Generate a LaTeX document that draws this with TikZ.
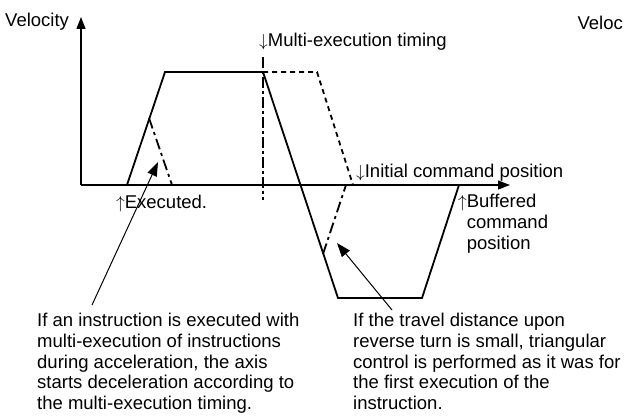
\documentclass[tikz,border=0pt]{standalone}
\usepackage{fontspec}
\setmainfont{Liberation Sans}
\usetikzlibrary{arrows.meta}
\newcommand{\arrdn}{\ensuremath{\downarrow}}
\newcommand{\arrup}{\ensuremath{\uparrow}}
\tikzset{
  lbl/.style={inner sep=0pt,font=\fontsize{18.5}{20.7}\selectfont},
  note/.style={lbl,align=left,anchor=north west},
  prof/.style={line width=1.8pt,line join=miter},
  axis/.style={line width=1.3pt,-{Triangle[length=12pt,width=9pt]}},
  plan/.style={line width=1.8pt,dash pattern=on 5pt off 4pt},
  alt/.style={line width=1.8pt,dash pattern=on 11pt off 4pt on 3pt off 4pt},
  tline/.style={line width=1.3pt,dash pattern=on 11pt off 3pt on 3pt off 3pt},
  lead/.style={line width=1pt,-{Triangle[length=14pt,width=10pt]}},
}

\begin{document}
\begin{tikzpicture}[x=1pt,y=-1pt]
\useasboundingbox (0,0) rectangle (624,417);
% axes
\coordinate (org) at (81,185);
\coordinate (vtop) at (81,17);
\coordinate (htip) at (510,185);
\draw[axis] (org)--(vtop);
\draw[axis] (org)--(htip);
% profile points
\coordinate (a0) at (127,185);
\coordinate (a1) at (165,72);
\coordinate (d0) at (263,72);
\coordinate (d1) at (338,298);
\coordinate (d2) at (422,298);
\coordinate (d3) at (459,185);
\draw[prof] (a0)--(a1)--(d0)--(d1)--(d2)--(d3);
\draw[tline] (263,57) coordinate (t0)--(263,200) coordinate (t1);
\draw[alt] (149,118) coordinate (e0)--(172,185) coordinate (e1);
\draw[plan] (d0)--(317,72) coordinate (p1)--(353,185) coordinate (p2);
\draw[alt] (323,254) coordinate (r0)--(346,185) coordinate (r1);
% labels
\node[lbl,anchor=base west] (vel) at (5,27) {Velocity};
\node[lbl,anchor=base east] (velb) at (623,30) {Veloc};
\node[lbl,anchor=base west] (multi) at (259,47) {\arrdn Multi-execution timing};
\node[lbl,anchor=base west] (init) at (356,178) {\arrdn Initial command position};
\node[lbl,anchor=base west] (exec) at (116,208) {\arrup Executed.};
\node[note] (buf) at (458,194) {\arrup Buffered\\\phantom{\arrup}command\\\phantom{\arrup}position};
\node[note] (noteL) at (37,313) {If an instruction is executed with\\multi-execution of instructions\\during acceleration, the axis\\starts deceleration according to\\the multi-execution timing.};
\node[note] (noteR) at (353,313) {If the travel distance upon\\reverse turn is small, triangular\\control is performed as it was for\\the first execution of the\\instruction.};
% leaders
\coordinate (tipL) at (158,162);
\coordinate (tailL) at (92,305);
\coordinate (tipR) at (337,243);
\coordinate (tailR) at (392,310);
\draw[lead] (tailL)--(tipL);
\draw[lead] (tailR)--(tipR);
\end{tikzpicture}
\end{document}
